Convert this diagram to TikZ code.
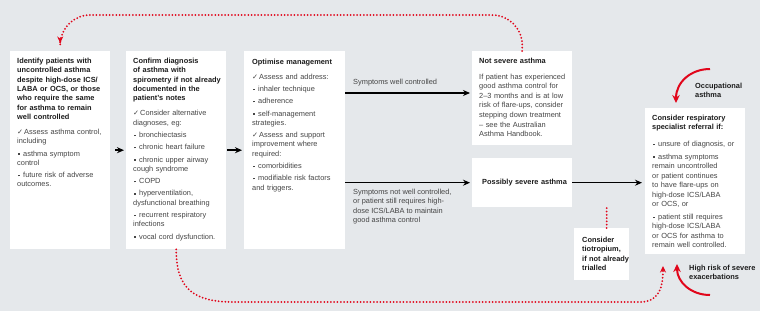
\documentclass[tikz,border=0pt]{standalone}
\usepackage{fontspec}
\setmainfont{Liberation Sans}
\newfontfamily\symfont{DejaVu Sans}
\usetikzlibrary{arrows.meta}

\definecolor{bgGrey}{HTML}{E5E8EB}
\definecolor{mjaRed}{HTML}{E1061B}
\definecolor{bodyGrey}{HTML}{454545}
\definecolor{headBlack}{HTML}{1C1C1C}

% heading, tick item and bullet item inside the panels
\newcommand\hd[1]{\noindent{\bfseries\color{headBlack}#1}\par\vspace{2.8pt}}
\newcommand\chk[1]{\par\hangindent=7pt\hangafter=1\noindent\makebox[7pt][l]{{\symfont\fontsize{7.2}{9}\selectfont ✓}}#1}
\newcommand\bul[1]{\par\hangindent=6pt\hangafter=1\noindent\makebox[6pt][l]{\hspace{1pt}\rule[1.4pt]{1.4pt}{1.4pt}}#1}

\begin{document}
\begin{tikzpicture}[x=1pt, y=-1pt, line join=round,
  panel/.style 2 args={fill=white, inner sep=0pt, minimum width=#1, minimum height=#2, anchor=north west},
  txt/.style={anchor=north west, inner sep=0pt, text width=#1, align=left, text=bodyGrey,
    font=\fontsize{7.4}{9.3}\selectfont\setlength{\parskip}{3pt}\setlength{\parindent}{0pt}},
  lbl/.style={anchor=north west, inner sep=0pt, align=left, text=bodyGrey, font=\fontsize{7.4}{9.3}\selectfont},
  redlbl/.style={lbl, text=headBlack, font=\fontsize{7.4}{9.3}\selectfont\bfseries},
  flow/.style={draw=black, line width=1.5pt, -{Stealth[length=7pt, width=6pt]}},
  dotline/.style={draw=mjaRed, line width=2pt, line cap=round, dash pattern=on 0pt off 3.3pt},
  dotarrow/.style={dotline, -{Stealth[length=6.5pt, width=6pt]}},
  redarrow/.style={draw=mjaRed, line width=2pt, -{Stealth[length=8pt, width=7.5pt]}}]

	% --- Nền ---
	\fill[bgGrey] (0,0) rectangle (760,311);
	\useasboundingbox (0,0) rectangle (760,311);

	% --- Khung trắng ---
	\node[panel={100}{198}] (idf) at (10,51) {};
	\node[panel={100}{198}] (cnf) at (126,51) {};
	\node[panel={101}{198}] (opt) at (244,51) {};
	\node[panel={100}{94}] (nsv) at (472,51) {};
	\node[panel={100}{49}] (psv) at (472,158) {};
	\node[panel={55}{52}] (tio) at (574,228) {};
	\node[panel={100}{146}] (ref) at (645,108) {};

	% --- Nội dung các khung ---
	\node[txt=92] (idfT) at ([shift={(7,7)}]idf.north west) {\hd{Identify patients with\\uncontrolled asthma\\despite high-dose ICS/\\LABA or OCS, or those\\who require the same\\for asthma to remain\\well controlled}\chk{Assess asthma control,\\including}\bul{asthma symptom\\control}\bul{future risk of adverse\\outcomes.}};
	\node[txt=92] (cnfT) at ([shift={(7,7)}]cnf.north west) {\hd{Confirm diagnosis\\of asthma with\\spirometry if not already\\documented in the\\patient’s notes}\chk{Consider alternative\\diagnoses, eg:}\bul{bronchiectasis}\bul{chronic heart failure}\bul{chronic upper airway\\cough syndrome}\bul{COPD}\bul{hyperventilation,\\dysfunctional breathing}\bul{recurrent respiratory\\infections}\bul{vocal cord dysfunction.}};
	\node[txt=92] (optT) at ([shift={(8,7.5)}]opt.north west) {\hd{Optimise management}\chk{Assess and address:}\bul{inhaler technique}\bul{adherence}\bul{self-management\\strategies.}\chk{Assess and support\\improvement where\\required:}\bul{comorbidities}\bul{modifiable risk factors\\and triggers.}};
	\node[txt=92, font=\fontsize{7.4}{9.65}\selectfont\setlength{\parskip}{3pt}\setlength{\parindent}{0pt}] (nsvT) at ([shift={(7,7)}]nsv.north west) {\hd{Not severe asthma}\noindent If patient has experienced\\good asthma control for\\2–3 months and is at low\\risk of flare-ups, consider\\stepping down treatment\\– see the Australian\\Asthma Handbook.};
	\node[txt=85, anchor=west, text=headBlack] (psvT) at ([xshift=10pt]psv.west) {\bfseries Possibly severe asthma};
	\node[txt=50, text=headBlack, font=\fontsize{7.4}{9.6}\selectfont] (tioT) at ([shift={(8,8.5)}]tio.north west) {\bfseries Consider\\tiotropium,\\if not already\\trialled};
	\node[txt=92, font=\fontsize{7.4}{9.5}\selectfont\setlength{\parskip}{3.2pt}\setlength{\parindent}{0pt}] (refT) at ([shift={(7,6.5)}]ref.north west) {\hd{Consider respiratory\\specialist referral if:}\vspace{1.5pt}\bul{unsure of diagnosis, or}\bul{asthma symptoms\\remain uncontrolled\\or patient continues\\to have flare-ups on\\high-dose ICS/LABA\\or OCS, or}\bul{patient still requires\\high-dose ICS/LABA\\or OCS for asthma to\\remain well controlled.}};

	% --- Mũi tên chính ---
	\draw[flow, shorten <=5pt, shorten >=2pt] (idf) -- (cnf);
	\draw[flow, shorten <=1pt, shorten >=2pt] (cnf) -- (opt);
	\draw[flow, shorten >=2pt] ([yshift=-42pt]opt.north east) -- ([yshift=-42pt]opt.north east -| nsv.west);
	\draw[flow, shorten >=2pt] (opt.east |- psv.west) -- (psv.west);
	\draw[flow, shorten >=3pt] (psv.east) -- (psv.east -| ref.west);

	% --- Nhãn mũi tên ---
	\node[lbl] (wellL) at (353,79) {Symptoms well controlled};
	\node[lbl] (notwellL) at (353,189) {Symptoms not well controlled,\\or patient still requires high-\\dose ICS/LABA to maintain\\good asthma control};

	% --- Đường chấm đỏ ---
	\draw[dotline] ([xshift=5pt]tio.north) -- ([xshift=5pt]tio.north |- psv.south);
	\draw[dotarrow, rounded corners=30pt, shorten >=8pt] (nsv.north) -- ++(0,-36) -| (idf.north);
	\coordinate (lowL) at (234,302);
	\coordinate (lowR) at (640,302);
	\coordinate (refIn) at (663,266);
	\draw[dotarrow] (cnf.south) .. controls (176,290) and (195,302) .. (lowL) -- (lowR) .. controls (656,302) and (663,292) .. (refIn);

	% --- Mũi tên đỏ ---
	\coordinate (occS) at (710,69);
	\coordinate (occE) at (676,103);
	\draw[redarrow] (occS) .. controls (691,69) and (676,82) .. (occE);
	\coordinate (hrS) at (710,295);
	\coordinate (hrE) at (677,264);
	\draw[redarrow] (hrS) .. controls (691,295) and (677,282) .. (hrE);
	\node[redlbl] (occL) at (695,83) {Occupational\\asthma};
	\node[redlbl] (hrL) at (689,265) {High risk of severe\\exacerbations};

\end{tikzpicture}
\end{document}
